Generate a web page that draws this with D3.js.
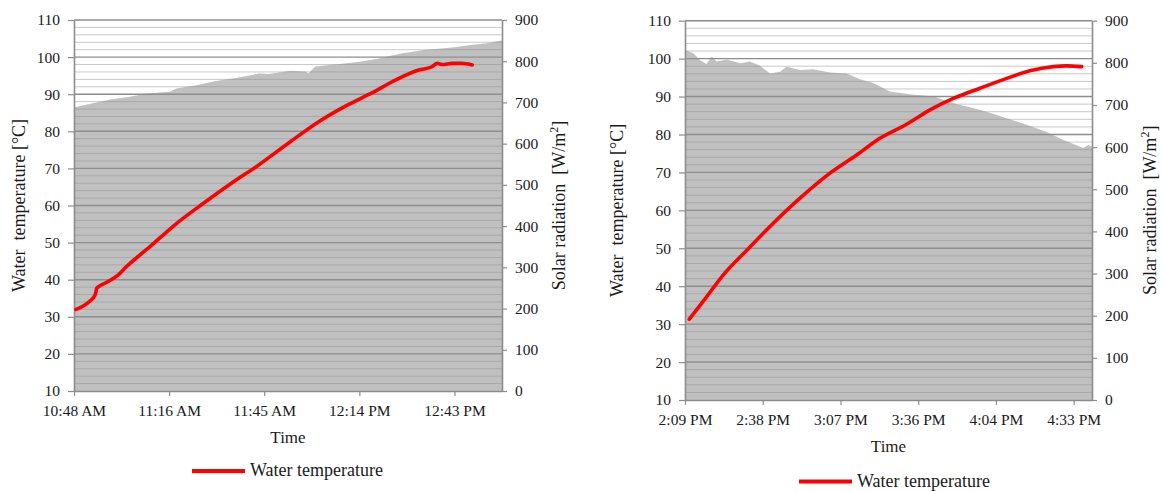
<!DOCTYPE html>
<html>
<head>
<meta charset="utf-8">
<script src="https://cdn.jsdelivr.net/npm/d3@7/dist/d3.min.js"></script>
<style>
  html, body { margin: 0; padding: 0; background: #fff; }
  svg { display: block; }
  svg text { font-family: "Liberation Serif", "Times New Roman", Tinos, "DejaVu Serif", serif !important; fill: #1a1a1a; }
</style>
</head>
<body>
<svg id="chart" width="1164" height="491"></svg>
<script>
// ---------- DATA (time in minutes since midnight) ----------
// Left chart
const leftTickValues = [648, 676.8, 705.6, 734.4, 763.2];
const leftTickLabels = ["10:48 AM", "11:16 AM", "11:45 AM", "12:14 PM", "12:43 PM"];
const leftDomain = [648, 777.6];

const leftRadTime = [648, 653, 659, 665, 670, 677, 679, 685, 691, 697, 704, 707, 713.5, 718, 719, 721, 727, 734, 740, 747, 754, 762.5, 768.6, 772.6, 776.6, 777.6];
const leftRad     = [688, 697, 707, 714, 722, 726, 734, 742, 752, 759, 770, 769, 777, 775, 770, 787, 792, 798, 806, 819, 827, 833, 840, 843, 849, 850];

const leftTempTime = [648.6, 650.8, 652.9, 654.4, 654.9, 655.4, 657.9, 661.4, 663.5, 671, 679.1, 687.2, 696.3, 703.4, 713.5, 722.1, 730.2, 738.3, 745.3, 752.4, 756.4, 758, 759.5, 762.5, 765.5, 768.6];
const leftTemp     = [32.0, 32.9, 34.3, 35.9, 37.7, 38.1, 39.3, 41.3, 43.2, 48.9, 55.2, 60.6, 66.4, 70.6, 77.2, 82.6, 86.8, 90.4, 93.8, 96.5, 97.4, 98.3, 98.0, 98.3, 98.3, 97.9];

// Right chart
const rightTickValues = [849.6, 878.4, 907.2, 936, 964.8, 993.6];
const rightTickLabels = ["2:09 PM", "2:38 PM", "3:07 PM", "3:36 PM", "4:04 PM", "4:33 PM"];
const rightDomain = [849.6, 1000.4];

const rightRadTime = [849.6, 850.0, 852.7, 855.2, 857.6, 859.5, 861.3, 865.1, 870.0, 873.7, 877.4, 881.1, 884.8, 887.3, 892.2, 897.1, 903.3, 909.5, 914.4, 919.4, 925.5, 934.2, 941.6, 949.0, 958.9, 966.3, 976.2, 983.6, 989.8, 997.2, 999.0, 1000.4];
const rightRad     = [830, 829, 823, 806, 797, 815, 803, 808, 799, 803, 793, 775, 779, 791, 783, 785, 777, 775, 761, 752, 732, 724, 721, 704, 689, 674, 653, 636, 617, 598, 605, 601];

const rightTempTime = [851.2, 857.6, 863.8, 872.5, 882.3, 892.2, 903.3, 913.2, 921.8, 931.7, 940.4, 949.0, 958.9, 968.8, 977.4, 986.1, 991.0, 996.6];
const rightTemp     = [31.3, 37.2, 43.0, 49.5, 56.6, 63.2, 69.8, 74.6, 79.0, 82.7, 86.5, 89.5, 92.2, 94.8, 96.8, 97.9, 98.1, 97.9];

// Axes values
const tempTicks = [10, 20, 30, 40, 50, 60, 70, 80, 90, 100, 110];
const radTicks  = [0, 100, 200, 300, 400, 500, 600, 700, 800, 900];
const minorTemps = d3.range(12, 110, 2).filter(v => v % 10 !== 0);

const seriesName = "Water temperature";

// ---------- DRAW ----------
const FONT = '"Liberation Serif", "Times New Roman", Tinos, "DejaVu Serif", serif';
const svg = d3.select("#chart").attr("font-family", FONT);

function drawChart(cfg) {
  const g = svg.append("g");
  const x = d3.scaleLinear().domain(cfg.domain).range([cfg.x0, cfg.x1]);
  const yT = d3.scaleLinear().domain([10, 110]).range([cfg.y1, cfg.y0]);
  const yR = d3.scaleLinear().domain([0, 900]).range([cfg.y1, cfg.y0]);

  // gridlines
  g.append("g").selectAll("line").data(minorTemps).join("line")
    .attr("x1", cfg.x0).attr("x2", cfg.x1)
    .attr("y1", d => yT(d)).attr("y2", d => yT(d))
    .attr("stroke", "#c8c8c8").attr("stroke-width", 1);
  g.append("g").selectAll("line").data(tempTicks.slice(1)).join("line")
    .attr("x1", cfg.x0).attr("x2", cfg.x1)
    .attr("y1", d => yT(d)).attr("y2", d => yT(d))
    .attr("stroke", "#8c8c8c").attr("stroke-width", 1.4);

  // solar radiation area
  const radData = cfg.radTime.map((t, i) => ({ t, v: cfg.rad[i] }));
  const area = d3.area().x(d => x(d.t)).y0(yR(0)).y1(d => yR(d.v));
  g.append("path").datum(radData).attr("d", area)
    .attr("fill", "#919191").attr("fill-opacity", 0.57);

  // axes
  const axL = g.append("g").attr("transform", `translate(${cfg.x0},0)`)
    .call(d3.axisLeft(yT).tickValues(tempTicks).tickSizeInner(6).tickSizeOuter(0).tickPadding(8));
  const axR = g.append("g").attr("transform", `translate(${cfg.x1},0)`)
    .call(d3.axisRight(yR).tickValues(radTicks).tickSizeInner(5).tickSizeOuter(0).tickPadding(8));
  const axB = g.append("g").attr("transform", `translate(0,${cfg.y1})`)
    .call(d3.axisBottom(x).tickValues(cfg.tickValues)
      .tickFormat((d, i) => cfg.tickLabels[i]).tickSizeInner(5).tickSizeOuter(0).tickPadding(9));
  [axL, axR, axB].forEach(a => {
    a.attr("font-family", FONT).attr("font-size", 15.5);
    a.select(".domain").attr("stroke", "#8c8c8c").attr("stroke-width", 1.6);
    a.selectAll(".tick line").attr("stroke", "#8c8c8c").attr("stroke-width", 1.2);
    a.selectAll(".tick text").attr("font-family", FONT).attr("fill", "#1a1a1a");
  });

  // temperature line
  const tData = cfg.tempTime.map((t, i) => ({ t, v: cfg.temp[i] }));
  g.append("path").datum(tData)
    .attr("d", d3.line().x(d => x(d.t)).y(d => yT(d.v)).curve(d3.curveMonotoneX))
    .attr("fill", "none").attr("stroke", "#ff0000").attr("stroke-width", 3.6)
    .attr("stroke-linejoin", "round").attr("stroke-linecap", "round");

  const cy = (cfg.y0 + cfg.y1) / 2;
  // left title
  g.append("text").attr("transform", `translate(${cfg.ltx},${cy}) rotate(-90)`)
    .attr("text-anchor", "middle").attr("dy", "0.35em")
    .attr("font-size", 18).style("white-space", "pre")
    .text("Water  temperature [°C]");
  // right title
  const rt = g.append("text").attr("transform", `translate(${cfg.rtx},${cy}) rotate(-90)`)
    .attr("text-anchor", "middle").attr("dy", "0.35em")
    .attr("font-size", 18).style("white-space", "pre");
  rt.append("tspan").text("Solar radiation  [W/m");
  rt.append("tspan").text("2").attr("baseline-shift", "super").attr("font-size", 12);
  rt.append("tspan").text("]");
  // x title
  g.append("text").attr("x", (cfg.x0 + cfg.x1) / 2).attr("y", cfg.y1 + 52)
    .attr("text-anchor", "middle").attr("font-size", 17).text("Time");
  // legend
  g.append("line").attr("x1", cfg.legX).attr("x2", cfg.legX + 53)
    .attr("y1", cfg.legY).attr("y2", cfg.legY)
    .attr("stroke", "#ff0000").attr("stroke-width", 4);
  g.append("text").attr("x", cfg.legX + 58).attr("y", cfg.legY).attr("dy", "0.3em")
    .attr("font-size", 18).text(seriesName);
}

drawChart({
  x0: 74, x1: 502, y0: 20, y1: 391,
  domain: leftDomain, tickValues: leftTickValues, tickLabels: leftTickLabels,
  radTime: leftRadTime, rad: leftRad, tempTime: leftTempTime, temp: leftTemp,
  ltx: 18.5, rtx: 559, legX: 192, legY: 471
});
drawChart({
  x0: 685, x1: 1092, y0: 20.7, y1: 400,
  domain: rightDomain, tickValues: rightTickValues, tickLabels: rightTickLabels,
  radTime: rightRadTime, rad: rightRad, tempTime: rightTempTime, temp: rightTemp,
  ltx: 617, rtx: 1150, legX: 799, legY: 481.5
});
</script>
</body>
</html>
